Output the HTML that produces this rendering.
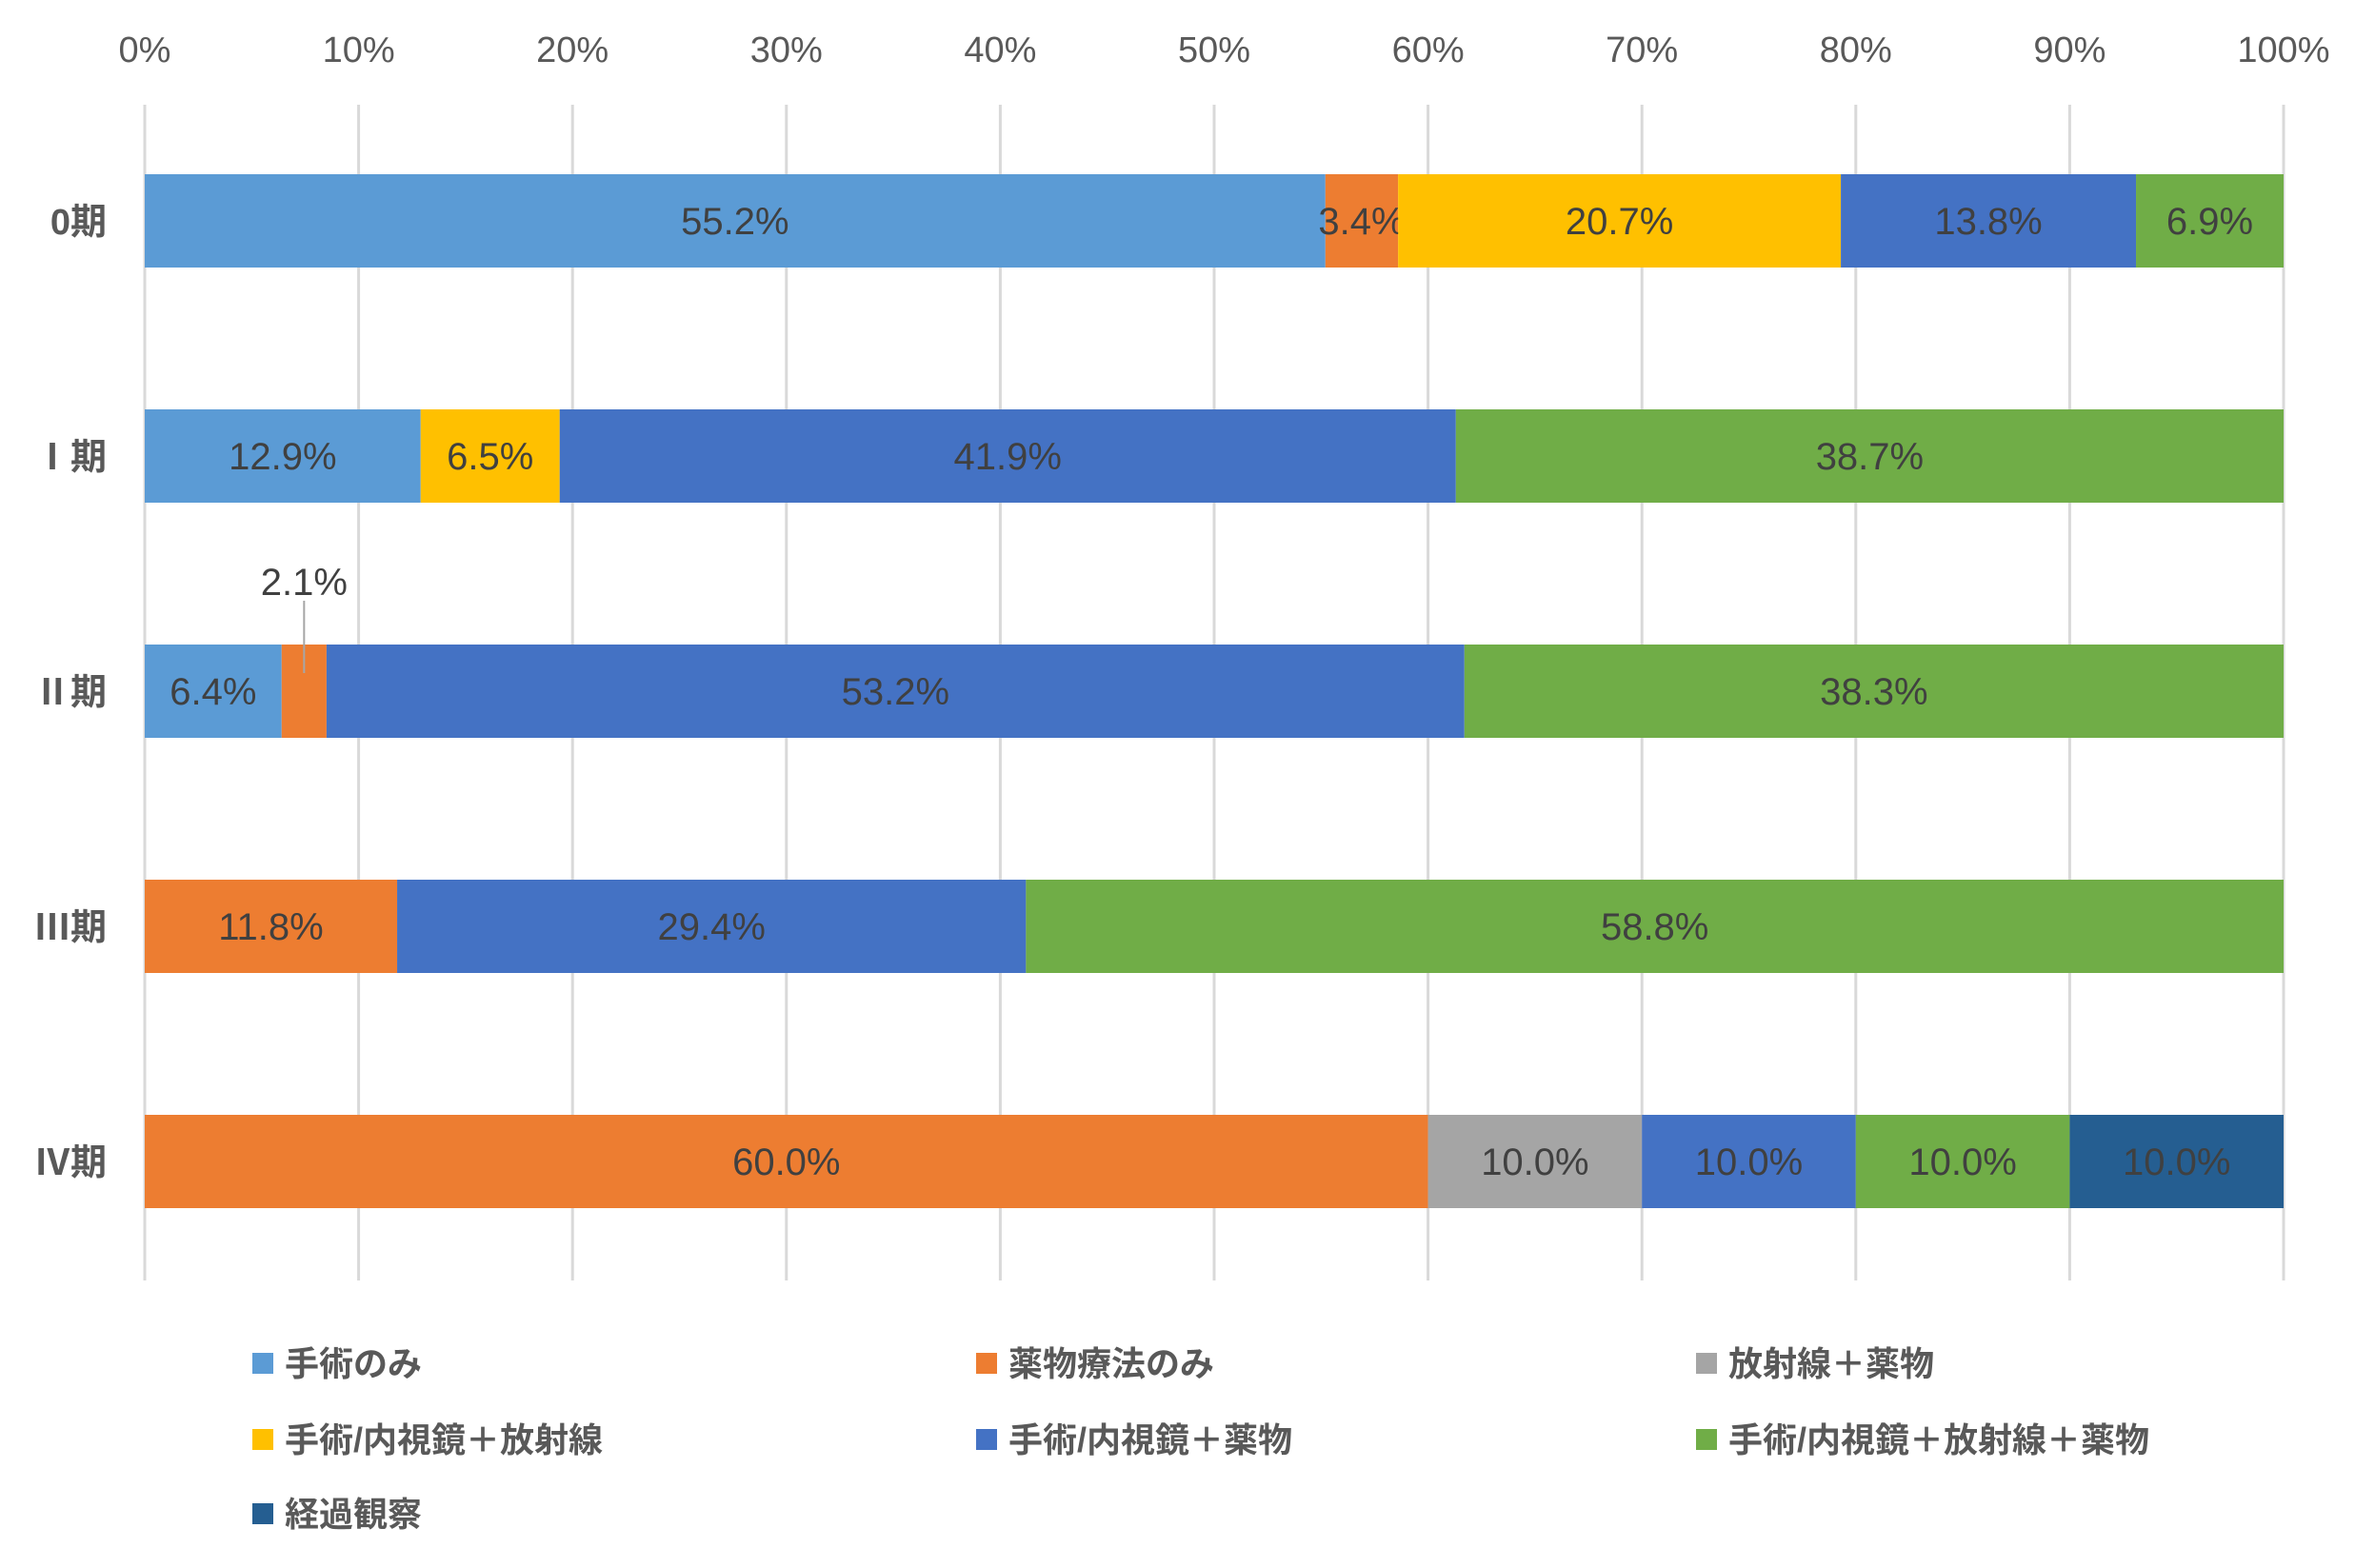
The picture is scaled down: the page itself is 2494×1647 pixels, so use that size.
<!DOCTYPE html>
<html><head><meta charset="utf-8"><style>
html,body{margin:0;padding:0;background:#fff;}
svg text{font-family:"Liberation Sans","Noto Sans CJK JP",sans-serif;}
</style></head><body>
<svg id="chart" width="2494" height="1642" viewBox="0 0 2494 1642" xmlns="http://www.w3.org/2000/svg">
<g id="grid"></g>
<g id="ticks"></g>
<g id="bars"></g>
<g id="cats"></g>
<g id="legend"></g>
</svg>
<script>
const categories = ["0期","Ⅰ期","Ⅱ期","Ⅲ期","Ⅳ期"];
const seriesNames = ["手術のみ","薬物療法のみ","放射線＋薬物","手術/内視鏡＋放射線","手術/内視鏡＋薬物","手術/内視鏡＋放射線＋薬物","経過観察"];
const seriesColors = ["#5B9BD5","#ED7D31","#A5A5A5","#FFC000","#4472C4","#70AD47","#255E91"];
const s0 = [55.2,12.9,6.4,0,0];
const s1 = [3.4,0,2.1,11.8,60.0];
const s2 = [0,0,0,0,10.0];
const s3 = [20.7,6.5,0,0,0];
const s4 = [13.8,41.9,53.2,29.4,10.0];
const s5 = [6.9,38.7,38.3,58.8,10.0];
const s6 = [0,0,0,0,10.0];
const tickLabels = ["0%","10%","20%","30%","40%","50%","60%","70%","80%","90%","100%"];
const series = [s0,s1,s2,s3,s4,s5,s6];

const NS="http://www.w3.org/2000/svg";
const X0=152, X1=2398, Y_FIRST=232, STEP=247, BH=98;
const xScale = p => X0 + (X1-X0)*p/100;
const yCenter = i => Y_FIRST + STEP*i;
function mk(tag, attrs, parent){const e=document.createElementNS(NS,tag);for(const k in attrs)e.setAttribute(k,attrs[k]);parent.appendChild(e);return e;}
const grid=document.getElementById('grid'), ticks=document.getElementById('ticks'), bars=document.getElementById('bars'), cats=document.getElementById('cats'), legend=document.getElementById('legend');

tickLabels.forEach((t,i)=>{
  const x=xScale(i*10);
  const l=mk('line',{x1:x,x2:x,y1:110,y2:1345,stroke:'#D9D9D9','stroke-width':3},grid);
  
  
  const tx=mk('text',{x:x,y:65,'text-anchor':'middle','font-size':38,fill:'#595959'},ticks);
  
  
  tx.textContent=t;
});

categories.forEach((c,ci)=>{
  const yc=yCenter(ci);
  const total=series.reduce((a,s)=>a+s[ci],0);
  let acc=0;
  series.forEach((s,si)=>{
    const v=s[ci]; if(!v) return;
    const xa=xScale(acc/total*100), xb=xScale((acc+v)/total*100);
    acc+=v;
    const r=mk('rect',{x:xa,y:yc-BH/2,width:xb-xa,height:BH,fill:seriesColors[si]},bars);
    
    
    const small=(xb-xa)<60;
    const lx=(xa+xb)/2;
    if(small){
      const ln=mk('line',{x1:lx,x2:lx,y1:yc-BH/2-46,y2:yc-BH/2+30,stroke:'#A6A6A6','stroke-width':2},bars);
      
      
    }
    const t=mk('text',{x:lx,y:small?yc-BH/2-52:yc+14,'text-anchor':'middle','font-size':40,fill:'#404040'},bars);
    
    
    t.textContent=v.toFixed(1)+'%';
  });
  const ct=mk('text',{x:112,y:yc+14,'text-anchor':'end','font-size':38,'font-weight':'bold',fill:'#595959'},cats);
  
  
  ct.textContent=c;
});

const legX=[265,1025,1781], legY=[1432,1512,1590];
seriesNames.forEach((n,i)=>{
  const x=legX[i%3], y=legY[Math.floor(i/3)];
  const g=mk('g',{},legend);
  
  
  mk('rect',{x:x,y:y-11,width:22,height:22,fill:seriesColors[i]},g);
  const t=mk('text',{x:x+34,y:y+13,'font-size':36,'font-weight':'bold',fill:'#595959'},g);
  t.textContent=n;
});
</script>
</body></html>
